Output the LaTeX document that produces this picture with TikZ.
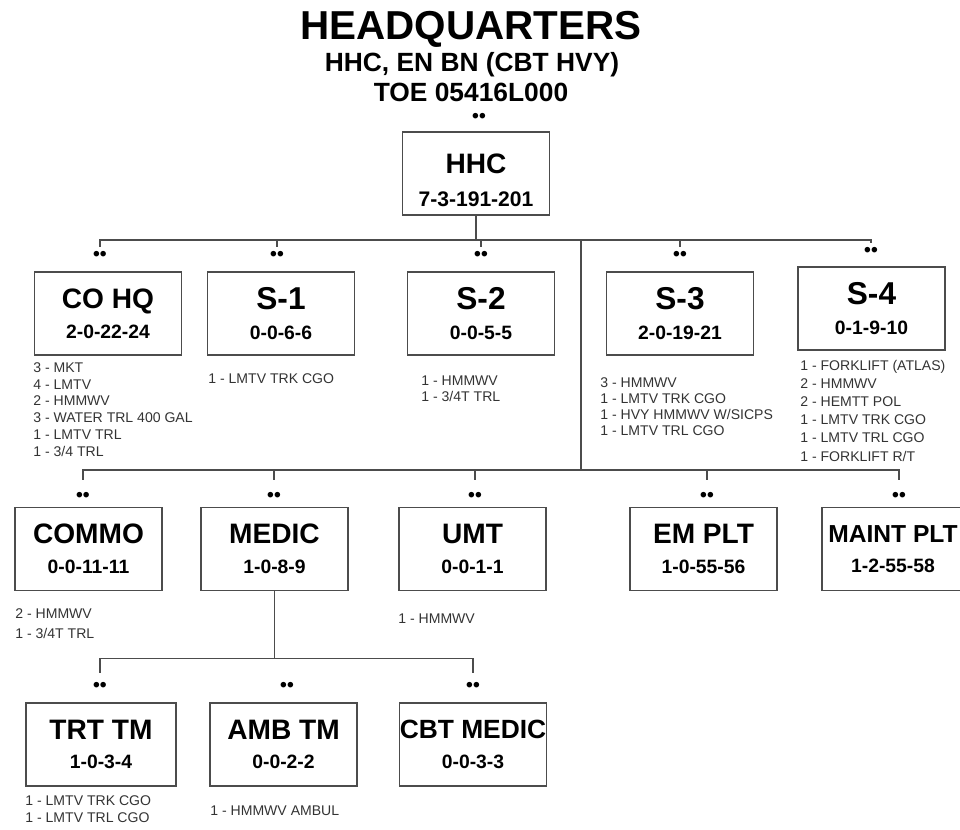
\documentclass[tikz,border=0pt]{standalone}
\usepackage{fontspec}
\setmainfont{Liberation Sans}
\newcommand{\boxtitle}[2][16]{{\fontsize{#1}{16.9}\selectfont #2}}
\begin{document}
\begin{tikzpicture}[x=0.02cm, y=-0.02cm,
  headline/.style={font=\bfseries\fontsize{15}{15}\selectfont, inner sep=0pt},
  unitbox/.style={draw=black!70, line width=1.1pt, minimum width=2.94cm, minimum height=1.66cm,
    inner sep=0pt, align=center, font=\bfseries\fontsize{11}{16.9}\selectfont},
  equip/.style={font=\fontsize{8}{9.6}\selectfont, text=black!80, align=left, anchor=north west, inner sep=0pt},
  pairdots/.style={font=\bfseries\fontsize{11}{11}\selectfont, inner sep=0pt, minimum height=10pt},
  feed/.style={draw=black!70, line width=0.9pt}]
\useasboundingbox (0,0) rectangle (960,830);
\node[font=\bfseries\fontsize{23}{23}\selectfont, inner sep=0pt] (hq) at (471,29) {HEADQUARTERS};
\node[headline] (hhcen) at (472,65) {HHC, EN BN (CBT HVY)};
\node[headline] (toe) at (471,92) {TOE 05416L000};
\node[pairdots] (hhcdots) at (479,118) {••};
\node[unitbox] (hhc) at (476,173.5) {\rule{0pt}{8pt}\\[-6pt]\boxtitle{HHC}\\[2pt]{\fontsize{12}{16.9}\selectfont 7-3-191-201}};

% staff sections
\node[pairdots] (cohqdots) at (100,256) {••};
\node[pairdots] (s1dots) at (277,256) {••};
\node[pairdots] (s2dots) at (481,256) {••};
\node[pairdots] (s3dots) at (680,256) {••};
\node[pairdots] (s4dots) at (871,252) {••};
\node[unitbox] (cohq) at (108,313.5) {\boxtitle{CO HQ}\\2-0-22-24};
\node[unitbox] (s1) at (281,313.5) {\boxtitle[18]{S-1}\\0-0-6-6};
\node[unitbox] (s2) at (481,313.5) {\boxtitle[18]{S-2}\\0-0-5-5};
\node[unitbox] (s3) at (680,313.5) {\boxtitle[18]{S-3}\\2-0-19-21};
\node[unitbox] (s4) at (871.5,308.5) {\boxtitle[18]{S-4}\\0-1-9-10};
\node[equip] (cohqkit) at (33,362) {3 - MKT\\4 - LMTV\\2 - HMMWV\\3 - WATER TRL 400 GAL\\1 - LMTV TRL\\1 - 3/4 TRL};
\node[equip] (s1kit) at (208,373) {1 - LMTV TRK CGO};
\node[equip] (s2kit) at (421,375) {1 - HMMWV\\1 - 3/4T TRL};
\node[equip, font=\fontsize{8}{9.1}\selectfont] (s3kit) at (600,377) {3 - HMMWV\\1 - LMTV TRK CGO\\1 - HVY HMMWV W/SICPS\\1 - LMTV TRL CGO};
\node[equip, font=\fontsize{8}{10.3}\selectfont] (s4kit) at (800,360) {1 - FORKLIFT (ATLAS)\\2 - HMMWV\\2 - HEMTT POL\\1 - LMTV TRK CGO\\1 - LMTV TRL CGO\\1 - FORKLIFT R/T};

% platoons and sections
\coordinate (trunk) at (581,470);
\node[pairdots, minimum height=19pt] (commodots) at (83,497) {••};
\node[pairdots, minimum height=19pt] (medicdots) at (274,497) {••};
\node[pairdots, minimum height=19pt] (umtdots) at (475,497) {••};
\node[pairdots, minimum height=19pt] (emdots) at (707,497) {••};
\node[pairdots, minimum height=19pt] (maintdots) at (899,497) {••};
\node[unitbox] (commo) at (88.5,549) {\boxtitle{COMMO}\\0-0-11-11};
\node[unitbox] (medic) at (274.5,549) {\boxtitle{MEDIC}\\1-0-8-9};
\node[unitbox] (umt) at (472.5,549) {\boxtitle{UMT}\\0-0-1-1};
\node[unitbox] (emplt) at (703.5,549) {\boxtitle{EM PLT}\\1-0-55-56};
\node[unitbox, minimum width=2.84cm] (maint) at (893,549) {\boxtitle[14]{MAINT PLT}\\1-2-55-58};
\node[equip, font=\fontsize{8}{11.3}\selectfont] (commokit) at (15,608) {2 - HMMWV\\1 - 3/4T TRL};
\node[equip] (umtkit) at (398,613) {1 - HMMWV};

% medical teams
\node[pairdots, minimum height=16pt] (trtdots) at (100,687) {••};
\node[pairdots] (ambdots) at (287,687) {••};
\node[pairdots, minimum height=16pt] (cbtdots) at (473,687) {••};
\node[unitbox, minimum width=3cm] (trt) at (101,744.5) {\boxtitle{TRT TM}\\1-0-3-4};
\node[unitbox] (amb) at (283.5,744.5) {\boxtitle{AMB TM}\\0-0-2-2};
\node[unitbox] (cbt) at (473,744.5) {\boxtitle[15]{CBT MEDIC}\\0-0-3-3};
\node[equip] (trtkit) at (25,795) {1 - LMTV TRK CGO\\1 - LMTV TRL CGO};
\node[equip] (ambkit) at (210,805) {1 - HMMWV AMBUL};

\draw[feed] (hhc.south) -- ++(0,24) -| (cohqdots.north);
\draw[feed] (hhc.south) -- ++(0,24) -| (s1dots.north);
\draw[feed] (hhc.south) -- ++(0,24) -| (s2dots.north);
\draw[feed] (hhc.south) -- ++(0,24) -| (s3dots.north);
\draw[feed] (hhc.south) -- ++(0,24) -| (s4dots.north);
\draw[feed] (hhc.south) -- ++(0,24) -| (trunk);
\draw[feed] (trunk) -| (commodots.north);
\draw[feed] (trunk) -| (medicdots.north);
\draw[feed] (trunk) -| (umtdots.north);
\draw[feed] (trunk) -| (emdots.north);
\draw[feed] (trunk) -| (maintdots.north);
\draw[feed] (medic.south) -- ++(0,67) -| (trtdots.north);
\draw[feed] (medic.south) -- ++(0,67) -| (cbtdots.north);
\end{tikzpicture}
\end{document}
